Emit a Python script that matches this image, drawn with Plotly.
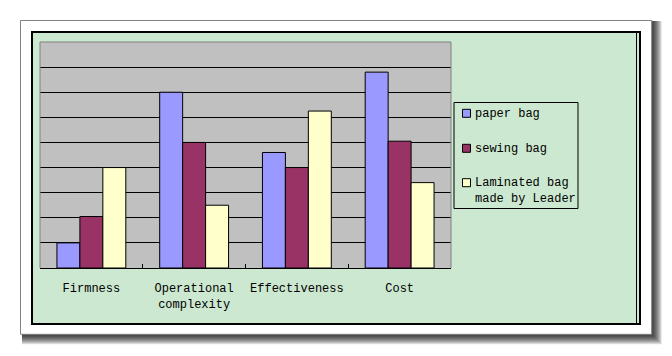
import plotly.graph_objects as go

categories = ["Firmness", "Operational<br>complexity", "Effectiveness", "Cost"]
series_names = ["paper bag", "sewing bag", "Laminated bag<br>made by Leader"]
paper_bag = [1.0, 7.0, 4.6, 7.8]
sewing_bag = [2.05, 5.0, 4.0, 5.05]
laminated_bag = [4.0, 2.5, 6.25, 3.4]
colors = ["#9999FF", "#993366", "#FFFFCC"]

W, H = 672, 356
ML, MR, MT, MB = 40, 221, 42, 88
PW, PH = W - ML - MR, H - MT - MB
FONT = "'Liberation Mono', 'DejaVu Sans Mono', monospace"


def px(x):
    return (x - ML) / PW


def py(y):
    return (H - MB - y) / PH


fig = go.Figure()
for name, vals, col in zip(series_names, [paper_bag, sewing_bag, laminated_bag], colors):
    fig.add_trace(go.Bar(x=categories, y=vals, name=name, showlegend=False,
                         marker=dict(color=col, line=dict(color="black", width=1))))

shapes = []
# drop shadow
for k in range(1, 11):
    shapes.append(dict(type="rect", xref="paper", yref="paper", layer="below",
                       x0=px(22), x1=px(651.7 + k), y0=py(21), y1=py(334.3 + k),
                       fillcolor="rgba(0,0,0,0.12)", line=dict(width=0)))
# white outer frame
shapes.append(dict(type="rect", xref="paper", yref="paper", layer="below",
                   x0=px(20.5), x1=px(651.7), y0=py(20.5), y1=py(334.3),
                   fillcolor="white", line=dict(color="#808080", width=1)))
# green chart area
shapes.append(dict(type="rect", xref="paper", yref="paper", layer="below",
                   x0=px(32), x1=px(640), y0=py(32), y1=py(324),
                   fillcolor="#CCE8D0", line=dict(color="black", width=2)))
shapes.append(dict(type="line", xref="paper", yref="paper", layer="below",
                   x0=px(636.5), x1=px(636.5), y0=py(33), y1=py(323),
                   line=dict(color="black", width=1)))
# grey plot area
shapes.append(dict(type="rect", xref="paper", yref="paper", layer="below",
                   x0=0, x1=1, y0=0, y1=1, fillcolor="#C0C0C0", line=dict(width=0)))
# plot border
shapes.append(dict(type="path", xref="paper", yref="paper", layer="above",
                   path="M 0,0 L 0,1 L 1,1 L 1,0", line=dict(color="#808080", width=1)))
# legend box
lx0, lx1, ly0, ly1 = 454, 578, 102.5, 208.5
shapes.append(dict(type="rect", xref="paper", yref="paper", layer="above",
                   x0=px(lx0), x1=px(lx1), y0=py(ly0), y1=py(ly1),
                   fillcolor="rgba(0,0,0,0)", line=dict(color="black", width=1)))

annotations = []
item_y = [113.3, 148.3, 182.7]
for name, col, yc in zip(series_names, colors, item_y):
    shapes.append(dict(type="rect", xref="paper", yref="paper", layer="above",
                       x0=px(462.5), x1=px(470.5), y0=py(yc - 4), y1=py(yc + 4),
                       fillcolor=col, line=dict(color="black", width=1)))
    annotations.append(dict(xref="paper", yref="paper", x=px(473),
                            y=py(yc - 7.8 - 1), xanchor="left", yanchor="top",
                            text=name, showarrow=False, align="left",
                            font=dict(family=FONT, size=12, color="black")))

fig.update_layout(
    width=W, height=H,
    margin=dict(l=ML, r=MR, t=MT, b=MB, pad=0),
    paper_bgcolor="white",
    plot_bgcolor="rgba(0,0,0,0)",
    barmode="group", bargap=0.33, bargroupgap=0,
    shapes=shapes, annotations=annotations,
    font=dict(family=FONT, size=12, color="black"),
    xaxis=dict(showline=True, linecolor="black", linewidth=1,
               ticks="inside", ticklen=4, tickcolor="black", tickson="boundaries",
               tickfont=dict(family=FONT, size=12, color="black"),
               ticklabelstandoff=9, showgrid=False),
    yaxis=dict(range=[0, 9], dtick=1, showgrid=True, gridcolor="black", gridwidth=1,
               showticklabels=False, zeroline=False, ticks=""),
)

fig.write_html("out.html", config={"displayModeBar": False},
               post_script="document.body.style.margin='0';document.body.style.overflow='hidden';")
